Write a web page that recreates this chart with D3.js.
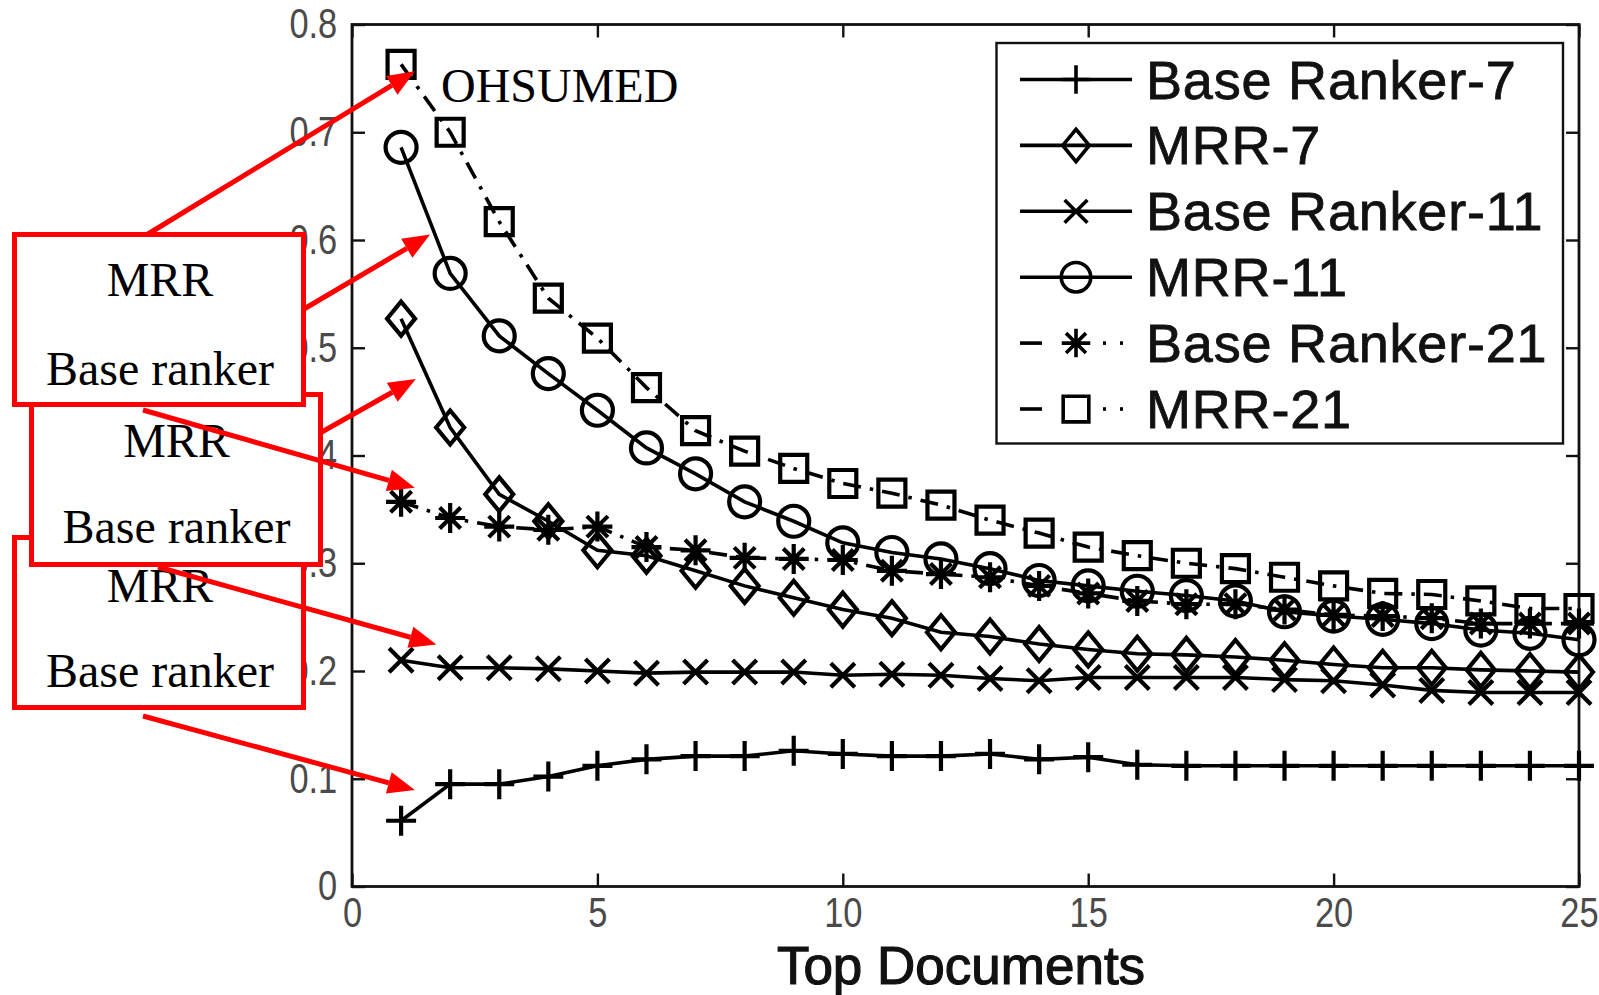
<!DOCTYPE html>
<html><head><meta charset="utf-8">
<script src="https://cdn.jsdelivr.net/npm/d3@7"></script>
<style>body{margin:0;background:#fff}svg{display:block}</style>
</head><body>
<svg id="chart" width="1599" height="995"></svg>
<script>
// ---------- data ----------
const topDocuments = [1,2,3,4,5,6,7,8,9,10,11,12,13,14,15,16,17,18,19,20,21,22,23,24,25];
const baseRanker7  = [0.061,0.095,0.095,0.102,0.112,0.118,0.121,0.121,0.126,0.123,0.121,0.121,0.123,0.118,0.120,0.113,0.112,0.112,0.112,0.112,0.112,0.112,0.112,0.112,0.112];
const mrr7         = [0.527,0.426,0.364,0.339,0.312,0.307,0.293,0.279,0.268,0.257,0.249,0.236,0.232,0.225,0.220,0.216,0.215,0.213,0.210,0.206,0.203,0.203,0.201,0.200,0.199];
const baseRanker11 = [0.210,0.203,0.203,0.202,0.200,0.198,0.199,0.199,0.199,0.196,0.197,0.196,0.193,0.191,0.194,0.194,0.194,0.194,0.192,0.191,0.187,0.182,0.180,0.180,0.180];
const mrr11        = [0.686,0.569,0.511,0.476,0.442,0.407,0.383,0.357,0.339,0.319,0.310,0.304,0.295,0.284,0.279,0.274,0.270,0.265,0.255,0.251,0.248,0.244,0.238,0.235,0.229];
const baseRanker21 = [0.357,0.342,0.334,0.331,0.334,0.315,0.312,0.305,0.304,0.303,0.293,0.290,0.287,0.279,0.272,0.265,0.262,0.262,0.257,0.252,0.251,0.249,0.244,0.244,0.244];
const mrr21        = [0.763,0.700,0.617,0.546,0.509,0.463,0.423,0.404,0.388,0.374,0.365,0.354,0.340,0.328,0.315,0.307,0.300,0.295,0.287,0.279,0.272,0.271,0.265,0.258,0.258];

const seriesNames   = ["Base Ranker-7","MRR-7","Base Ranker-11","MRR-11","Base Ranker-21","MRR-21"];
const seriesMarkers = ["plus","diamond","cross","circle","star","square"];
const seriesStyles  = ["solid","solid","solid","solid","dashdot","dashdot"];
const seriesValues  = [baseRanker7, mrr7, baseRanker11, mrr11, baseRanker21, mrr21];

const xTickValues = [0,5,10,15,20,25];
const yTickValues = [0,0.1,0.2,0.3,0.4,0.5,0.6,0.7,0.8];
const yTickLabels = ["0","0.1","0.2","0.3","0.4","0.5","0.6","0.7","0.8"];
const xAxisTitle = "Top Documents";
const datasetLabel = "OHSUMED";
const calloutLines = ["MRR","Base ranker"];
// arrow tips in data space (Top Documents, value)
const arrowTipX = [1.28,1.59,1.30,1.28,1.72,1.28];
const arrowTipY = [0.7565,0.605,0.471,0.370,0.2246,0.0896];

// ---------- layout ----------
const svg = d3.select("#chart");
const M = {left:352, right:1579, top:24.5, bottom:886.5};
const x = d3.scaleLinear().domain([0,25]).range([M.left, M.right]);
const y = d3.scaleLinear().domain([0,0.8]).range([M.bottom, M.top]);
const tickFont = "'Liberation Sans Narrow','Arial Narrow','Liberation Sans',Arial,sans-serif";
const sansFont = "'Liberation Sans',Arial,Helvetica,sans-serif";
const serifFont = "'Liberation Serif','Times New Roman',Times,serif";

svg.append("rect").attr("width",1599).attr("height",995).attr("fill","#fff");

// axes (MATLAB-style box with inner ticks)
function styleAxis(g){
  g.select(".domain").remove();
  g.selectAll(".tick line").attr("stroke","#111").attr("stroke-width",2.4);
  g.selectAll(".tick text").attr("fill","#4a4a4a").style("font-family",tickFont).style("font-size","42px")
    .attr("transform","scale(0.82,1)");
}
svg.append("g").attr("transform",`translate(0,${M.bottom})`)
  .call(d3.axisBottom(x).tickValues(xTickValues).tickSizeInner(-13).tickSizeOuter(0).tickPadding(11).tickFormat(d3.format("d")))
  .call(styleAxis);
svg.append("g").attr("transform",`translate(0,${M.top})`)
  .call(d3.axisTop(x).tickValues(xTickValues).tickSizeInner(-13).tickSizeOuter(0).tickFormat(""))
  .call(styleAxis);
svg.append("g").attr("transform",`translate(${M.left},0)`)
  .call(d3.axisLeft(y).tickValues(yTickValues).tickSizeInner(-13).tickSizeOuter(0).tickPadding(18).tickFormat((d,i)=>yTickLabels[i]))
  .call(styleAxis);
svg.append("g").attr("transform",`translate(${M.right},0)`)
  .call(d3.axisRight(y).tickValues(yTickValues).tickSizeInner(-13).tickSizeOuter(0).tickFormat(""))
  .call(styleAxis);
svg.append("rect").attr("x",M.left).attr("y",M.top).attr("width",M.right-M.left).attr("height",M.bottom-M.top)
  .attr("fill","none").attr("stroke","#111").attr("stroke-width",2.8);

// x axis title
svg.append("text").attr("x",961).attr("y",984).attr("text-anchor","middle")
  .style("font-family",sansFont).style("font-size","53px").attr("fill","#111")
  .attr("stroke","#111").attr("stroke-width",1.2).text(xAxisTitle);

// marker path
function markerPath(type, cx, cy, k){
  k = k || 1;
  const s = 15*k;
  switch(type){
    case "plus": return `M${cx-s},${cy}H${cx+s}M${cx},${cy-s}V${cy+s}`;
    case "cross": { const c = 12*k; return `M${cx-c},${cy-c}L${cx+c},${cy+c}M${cx-c},${cy+c}L${cx+c},${cy-c}`; }
    case "star": { const a = 15*k, c = 10.5*k; return `M${cx-a},${cy}H${cx+a}M${cx},${cy-a}V${cy+a}M${cx-c},${cy-c}L${cx+c},${cy+c}M${cx-c},${cy+c}L${cx+c},${cy-c}`; }
    case "diamond": { const w = 14*k, h = 17*k; return `M${cx},${cy-h}L${cx+w},${cy}L${cx},${cy+h}L${cx-w},${cy}Z`; }
    case "circle": { const r = 15.5*k; return `M${cx-r},${cy}A${r},${r} 0 1,0 ${cx+r},${cy}A${r},${r} 0 1,0 ${cx-r},${cy}Z`; }
    case "square": { const h = 13.5*k; return `M${cx-h},${cy-h}H${cx+h}V${cy+h}H${cx-h}Z`; }
  }
}

const line = d3.line().x(d=>x(d[0])).y(d=>y(d[1]));
const plot = svg.append("g");
seriesValues.forEach((vals,i)=>{
  const pts = topDocuments.map((t,j)=>[t, vals[j]]);
  const g = plot.append("g");
  g.append("path").attr("d", line(pts)).attr("fill","none").attr("stroke","#000")
    .attr("stroke-width",3.6)
    .attr("stroke-dasharray", seriesStyles[i]==="dashdot" ? "18,9,3.5,9" : null);
  g.selectAll("path.m").data(pts).join("path").attr("class","m")
    .attr("d", d=>markerPath(seriesMarkers[i], x(d[0]), y(d[1])))
    .attr("fill","none").attr("stroke","#000").attr("stroke-width",4.2);
});

// legend
const L = {x:996.5, y:43, w:566.5, h:400.5, rowY0:79.5, rowDy:65.9};
const leg = svg.append("g");
leg.append("rect").attr("x",L.x).attr("y",L.y).attr("width",L.w).attr("height",L.h)
  .attr("fill","#fff").attr("stroke","#111").attr("stroke-width",2.4);
seriesNames.forEach((name,i)=>{
  const cy = L.rowY0 + i*L.rowDy;
  const g = leg.append("g");
  if(seriesStyles[i]==="solid"){
    g.append("line").attr("x1",1020).attr("x2",1132).attr("y1",cy).attr("y2",cy).attr("stroke","#000").attr("stroke-width",3.6);
  } else {
    g.append("line").attr("x1",1020).attr("x2",1042).attr("y1",cy).attr("y2",cy).attr("stroke","#000").attr("stroke-width",3.6);
    g.append("line").attr("x1",1103).attr("x2",1106).attr("y1",cy).attr("y2",cy).attr("stroke","#000").attr("stroke-width",3.6);
    g.append("line").attr("x1",1120).attr("x2",1123).attr("y1",cy).attr("y2",cy).attr("stroke","#000").attr("stroke-width",3.6);
  }
  g.append("path").attr("d", markerPath(seriesMarkers[i], 1076, cy, 0.95)).attr("fill", "none")
    .attr("stroke","#000").attr("stroke-width",3.6);
  g.append("text").attr("x",1146).attr("y",cy+19).style("font-family",sansFont).style("font-size","54px")
    .style("letter-spacing","0.8px").attr("fill","#111").attr("stroke","#111").attr("stroke-width",0.8).text(name);
});

// dataset label
svg.append("text").attr("x",441).attr("y",102).style("font-family",serifFont).style("font-size","48px")
  .attr("fill","#000").text(datasetLabel);

// callout boxes (drawn back to front)
const boxes = [
  {x:14.5, y:537.5, cx:160, b1:602, b2:686.5},
  {x:31.5, y:394.5, cx:176.5, b1:457, b2:542.5},
  {x:14.5, y:234.5, cx:160, b1:296, b2:384.5}
];
boxes.forEach(b=>{
  const g = svg.append("g");
  g.append("rect").attr("x",b.x).attr("y",b.y).attr("width",289).attr("height",170)
    .attr("fill","#fff").attr("stroke","#ff0000").attr("stroke-width",5);
  g.append("text").attr("x",b.cx).attr("y",b.b1).attr("text-anchor","middle")
    .style("font-family",serifFont).style("font-size","48px").attr("fill","#000").text(calloutLines[0]);
  g.append("text").attr("x",b.cx).attr("y",b.b2).attr("text-anchor","middle")
    .style("font-family",serifFont).style("font-size","48px").attr("fill","#000").text(calloutLines[1]);
});

// arrows
const arrowStarts = [[148,234],[304,309],[320,433],[143,410],[158,567],[143,716]];
arrowStarts.forEach((s,i)=>{
  const tx = x(arrowTipX[i]), ty = y(arrowTipY[i]);
  const ang = Math.atan2(ty-s[1], tx-s[0]);
  const len = 27, hw = 11;
  const bx = tx - len*Math.cos(ang), by = ty - len*Math.sin(ang);
  svg.append("line").attr("x1",s[0]).attr("y1",s[1]).attr("x2",bx).attr("y2",by)
    .attr("stroke","#ff0000").attr("stroke-width",5);
  const px = -Math.sin(ang), py = Math.cos(ang);
  svg.append("path").attr("d",`M${tx},${ty}L${bx+px*hw},${by+py*hw}L${bx-px*hw},${by-py*hw}Z`).attr("fill","#ff0000");
});
</script>
</body></html>
